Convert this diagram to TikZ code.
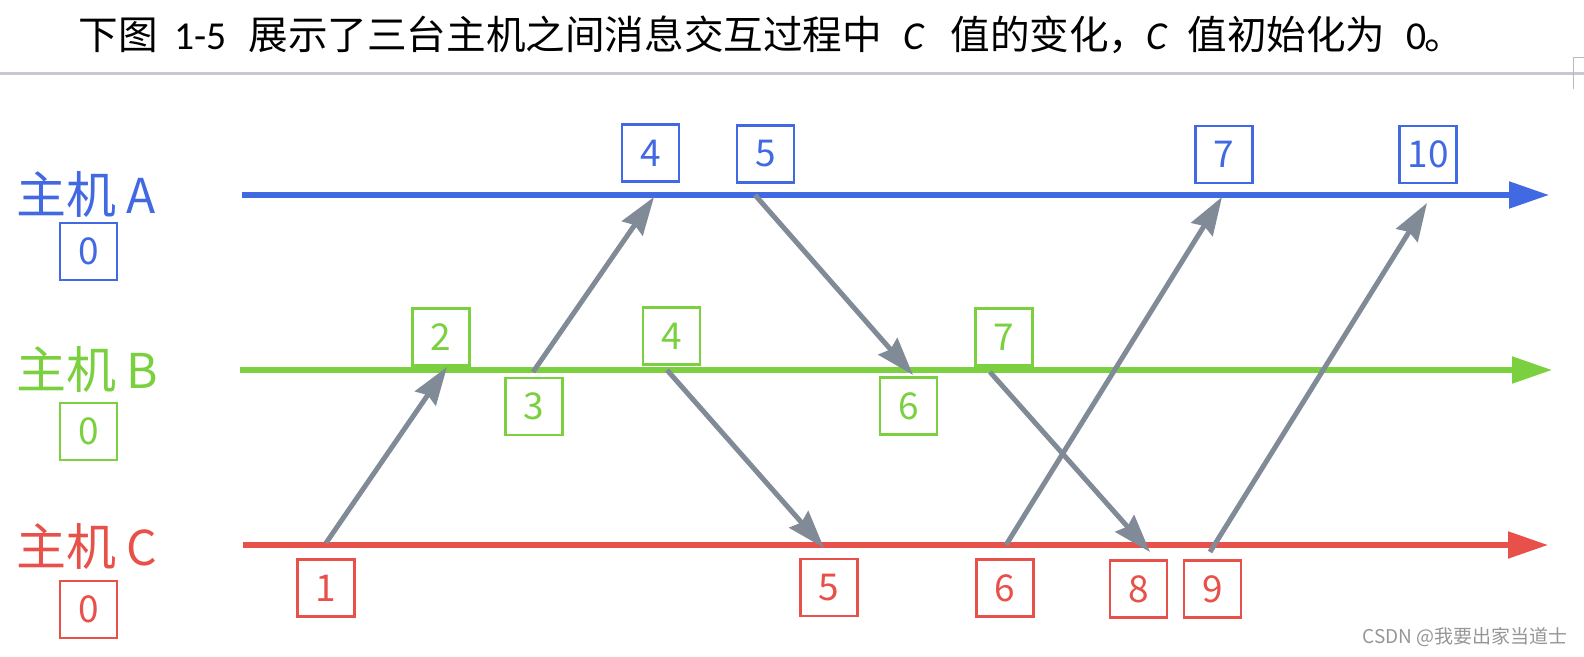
\documentclass[tikz,border=0pt]{standalone}
\usepackage{fontspec}
\newfontfamily\cjk{Noto Sans CJK SC}
\newfontfamily\lat{Carlito}
\usetikzlibrary{arrows.meta}
\definecolor{hA}{RGB}{65,105,225}
\definecolor{hB}{RGB}{122,208,62}
\definecolor{hC}{RGB}{232,80,74}
\definecolor{msgc}{RGB}{128,139,151}
\definecolor{sepc}{RGB}{200,200,208}
\definecolor{wmc}{RGB}{150,150,150}
\begin{document}
\begin{tikzpicture}[x=0.5pt,y=-0.5pt,
  valbox/.style={draw, line width=1.1pt, minimum width=28.5pt, minimum height=28.5pt, inner sep=0pt, font=\cjk\fontsize{18.5pt}{20pt}\selectfont},
  hostlbl/.style={anchor=west, inner sep=0pt, font=\cjk\fontsize{25pt}{27pt}\selectfont},
  hostline/.style={line width=2.6pt, -{Triangle[length=20pt,width=13pt]}},
  msg/.style={draw=msgc, line width=2.5pt, -{Stealth[length=19pt,width=12.5pt,inset=2pt]}},
  ttl/.style={anchor=base west, inner sep=0pt, font=\fontsize{19.8pt}{22pt}\selectfont}]
\useasboundingbox (0,0) rectangle (1584,657);

% title
\node[ttl] (t1) at (78,50) {\cjk 下图};
\node[ttl] (t2) at (174,50) {\lat 1-5};
\node[ttl] (t3) at (248,50) {\cjk 展示了三台主机之间消息交互过程中};
\node[ttl] (t4) at (903,50) {\lat\itshape C};
\node[ttl] (t5) at (950,50) {\cjk 值的变化，};
\node[ttl] (t6) at (1146,50) {\lat\itshape C};
\node[ttl] (t7) at (1187,50) {\cjk 值初始化为};
\node[ttl] (t8) at (1406,50) {\lat 0};
\node[ttl] (t9) at (1424,50) {\cjk 。};

% separator
\draw[sepc, line width=1.5pt] (0,74) -- (1584,74);
\draw[sepc!80!gray, line width=0.5pt] (1573,89) -- (1573,58) -- (1584,58);

% host labels
\node[hostlbl, text=hA] (la) at (16,195) {主机\hspace{5pt}{\fontsize{24pt}{26pt}\selectfont A}};
\node[hostlbl, text=hB] (lb) at (16,370) {主机\hspace{5pt}{\fontsize{24pt}{26pt}\selectfont B}};
\node[hostlbl, text=hC] (lc) at (16,546) {主机\hspace{5pt}{\fontsize{24pt}{26pt}\selectfont C}};
\node[valbox, hA] (za) at (88.5,251.5) {0};
\node[valbox, hB] (zb) at (88.5,431.5) {0};
\node[valbox, hC] (zc) at (88.5,609.5) {0};

% host lines
\coordinate (As) at (242,195); \coordinate (Ae) at (1549,195);
\coordinate (Bs) at (240,370); \coordinate (Be) at (1552,370);
\coordinate (Cs) at (243,545); \coordinate (Ce) at (1548,545);
\draw[hostline, hA] (As) -- (Ae);
\draw[hostline, hB] (Bs) -- (Be);
\draw[hostline, hC] (Cs) -- (Ce);

% value boxes
\node[valbox, hA] (a4) at (650.5,153) {4};
\node[valbox, hA] (a5) at (765.5,154) {5};
\node[valbox, hA] (a7) at (1224,154.5) {7};
\node[valbox, hA] (a10) at (1428,154.5) {10};
\node[valbox, hB] (b2) at (441,337) {2};
\node[valbox, hB] (b4) at (671.5,336) {4};
\node[valbox, hB] (b7) at (1004,337) {7};
\node[valbox, hB] (b3) at (534,406.5) {3};
\node[valbox, hB] (b6) at (908.5,406) {6};
\node[valbox, hC] (c1) at (326,588) {1};
\node[valbox, hC] (c5) at (829,587.5) {5};
\node[valbox, hC] (c6) at (1005,588) {6};
\node[valbox, hC] (c8) at (1138.5,589) {8};
\node[valbox, hC] (c9) at (1212.5,589) {9};

% message events
\coordinate (m1s) at (326,543); \coordinate (m1e) at (447,367);
\coordinate (m2s) at (533,372); \coordinate (m2e) at (654,197);
\coordinate (m3s) at (755,195); \coordinate (m3e) at (913,375);
\coordinate (m4s) at (667,370); \coordinate (m4e) at (824,548);
\coordinate (m5s) at (990,372); \coordinate (m5e) at (1150,552);
\coordinate (m6s) at (1006,545); \coordinate (m6e) at (1222,197);
\coordinate (m7s) at (1210,552); \coordinate (m7e) at (1427,203);
\draw[msg] (m1s) -- (m1e);
\draw[msg] (m2s) -- (m2e);
\draw[msg] (m3s) -- (m3e);
\draw[msg] (m4s) -- (m4e);
\draw[msg] (m5s) -- (m5e);
\draw[msg] (m6s) -- (m6e);
\draw[msg] (m7s) -- (m7e);

% watermark
\node[anchor=east, inner sep=0pt, text=wmc, font=\cjk\fontsize{9.5pt}{11pt}\selectfont] (wm) at (1568,637) {CSDN @我要出家当道士};
\end{tikzpicture}
\end{document}
